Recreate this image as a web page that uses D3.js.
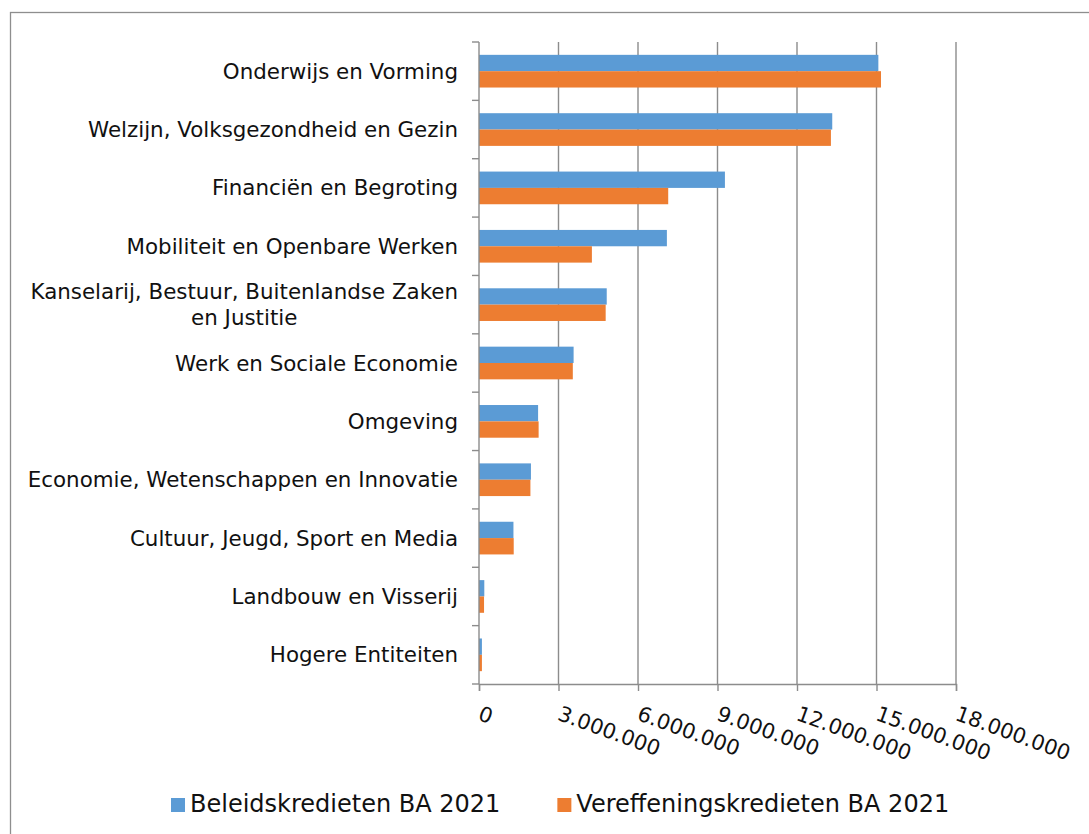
<!DOCTYPE html>
<html>
<head>
<meta charset="utf-8">
<script src="https://cdn.jsdelivr.net/npm/d3@7"></script>
<style>
  body { margin: 0; background: #fff; }
  svg { display: block; font-family: "DejaVu Sans", Verdana, sans-serif; }
</style>
</head>
<body>
<svg id="chart" width="1089" height="834"></svg>
<script>
// categories, top to bottom
var categories = [
  "Onderwijs en Vorming",
  "Welzijn, Volksgezondheid en Gezin",
  "Financiën en Begroting",
  "Mobiliteit en Openbare Werken",
  "Kanselarij, Bestuur, Buitenlandse Zaken en Justitie",
  "Werk en Sociale Economie",
  "Omgeving",
  "Economie, Wetenschappen en Innovatie",
  "Cultuur, Jeugd, Sport en Media",
  "Landbouw en Visserij",
  "Hogere Entiteiten"
];

var seriesNames = ["Beleidskredieten BA 2021", "Vereffeningskredieten BA 2021"];
var seriesColors = ["#5b9bd5", "#ed7d31"];

// values (euro)
var beleidskredieten = [15070000, 13330000, 9280000, 7090000, 4820000, 3570000, 2230000, 1960000, 1300000, 200000, 110000];
var vereffeningskredieten = [15170000, 13280000, 7140000, 4260000, 4780000, 3540000, 2250000, 1940000, 1310000, 190000, 110000];

var xTicks = [0, 3000000, 6000000, 9000000, 12000000, 15000000, 18000000];

var margin = { top: 42, left: 479 },
  width = 956 - 479,
  height = 684 - 42;

var nl = d3.formatLocale({ decimal: ",", thousands: ".", grouping: [3], currency: ["€", ""] });
var fmt = nl.format(",.0f");

var svg = d3.select("#chart");

// outer chart border
svg.append("rect")
  .attr("x", 10.5).attr("y", 12.5)
  .attr("width", 1200).attr("height", 1000)
  .attr("fill", "none")
  .attr("stroke", "#8e8e8e")
  .attr("stroke-width", 1.3);

var g = svg.append("g")
  .attr("transform", "translate(" + margin.left + "," + margin.top + ")");

var x = d3.scaleLinear().domain([0, 18000000]).range([0, width]);
var y = d3.scaleBand().domain(categories).range([0, height])
  .paddingInner(0.44).paddingOuter(0.22);
var ySub = d3.scaleBand().domain(seriesNames).range([0, y.bandwidth()]);

// vertical gridlines
g.append("g")
  .selectAll("line")
  .data(xTicks.slice(1))
  .enter().append("line")
  .attr("x1", d => x(d)).attr("x2", d => x(d))
  .attr("y1", 0).attr("y2", height)
  .attr("stroke", "#8c8c8c")
  .attr("stroke-width", 1.4);

// bars
var rows = categories.map(function (c, i) {
  return { cat: c, values: [beleidskredieten[i], vereffeningskredieten[i]] };
});

var grp = g.selectAll(".cat")
  .data(rows)
  .enter().append("g")
  .attr("class", "cat")
  .attr("transform", d => "translate(0," + y(d.cat) + ")");

grp.selectAll("rect")
  .data(d => d.values.map((v, k) => ({ s: seriesNames[k], v: v, k: k })))
  .enter().append("rect")
  .attr("x", x(0))
  .attr("y", d => ySub(d.s))
  .attr("width", d => x(d.v) - x(0))
  .attr("height", ySub.bandwidth())
  .attr("fill", d => seriesColors[d.k]);

// category axis: line plus ticks between categories
var bounds = categories.map(c => y(c) - y.step() * 0.22).concat([height]);
g.append("line")
  .attr("x1", 0).attr("x2", 0).attr("y1", 0).attr("y2", height)
  .attr("stroke", "#8c8c8c").attr("stroke-width", 1.4);
g.append("g").selectAll("line")
  .data(bounds)
  .enter().append("line")
  .attr("x1", -7).attr("x2", 0)
  .attr("y1", d => d).attr("y2", d => d)
  .attr("stroke", "#8c8c8c").attr("stroke-width", 1.4);

// value axis
var xAxis = g.append("g")
  .attr("transform", "translate(0," + height + ")")
  .call(d3.axisBottom(x).tickValues(xTicks).tickSize(7).tickFormat(""));
xAxis.select(".domain").attr("stroke", "#8c8c8c").attr("stroke-width", 1.4);
xAxis.selectAll(".tick line").attr("stroke", "#8c8c8c").attr("stroke-width", 1.4);

// rotated tick labels
g.append("g").selectAll("text")
  .data(xTicks)
  .enter().append("text")
  .attr("transform", d => "translate(" + (x(d) - 2) + "," + (height + 35.5) + ") rotate(20)")
  .attr("font-size", 21)
  .attr("fill", "#111")
  .text(d => fmt(d));

// category labels, wrapped and right aligned
var labelRight = margin.left - 21;
var labels = svg.append("g");
categories.forEach(function (c) {
  var words = c.split(" ");
  var lines = [], line = [];
  var probe = labels.append("text").attr("font-size", 21.4);
  words.forEach(function (w) {
    line.push(w);
    probe.text(line.join(" "));
    if (probe.node().getComputedTextLength() > 445 && line.length > 1) {
      line.pop();
      lines.push(line.join(" "));
      line = [w];
    }
  });
  lines.push(line.join(" "));
  var widths = lines.map(function (l) {
    probe.text(l);
    return probe.node().getComputedTextLength();
  });
  probe.remove();
  var maxW = d3.max(widths);
  var cy = margin.top + y(c) + y.bandwidth() / 2;
  var lh = 26;
  var t = labels.append("text")
    .attr("font-size", 21.4)
    .attr("fill", "#111")
    .attr("text-anchor", lines.length > 1 ? "middle" : "end");
  lines.forEach(function (l, i) {
    t.append("tspan")
      .attr("x", lines.length > 1 ? labelRight - maxW / 2 : labelRight)
      .attr("y", cy + (i - (lines.length - 1) / 2) * lh + 7.5)
      .text(l);
  });
});

// legend
var legend = svg.append("g");
var lx = 171;
seriesNames.forEach(function (s, i) {
  legend.append("rect")
    .attr("x", lx).attr("y", 798)
    .attr("width", 14).attr("height", 14)
    .attr("fill", seriesColors[i]);
  var t = legend.append("text")
    .attr("x", lx + 19).attr("y", 812)
    .attr("font-size", 24)
    .attr("fill", "#111")
    .text(s);
  lx += 19 + t.node().getComputedTextLength() + 57;
});
</script>
</body>
</html>
